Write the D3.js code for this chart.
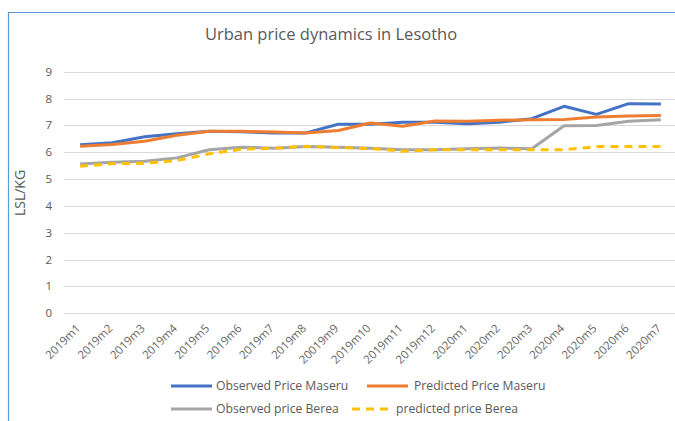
<!DOCTYPE html>
<html>
<head>
<meta charset="utf-8">
<script src="https://cdn.jsdelivr.net/npm/d3@7"></script>
<style>
  body { margin: 0; background: #fff; }
  svg { display: block; font-family: 'Open Sans', Lato, sans-serif; }
</style>
</head>
<body>
<div id="chart"></div>
<script>
var months = ['2019m1', '2019m2', '2019m3', '2019m4', '2019m5', '2019m6', '2019m7', '2019m8', '20019m9', '2019m10',
  '2019m11', '2019m12', '2020m1', '2020m2', '2020m3', '2020m4', '2020m5', '2020m6', '2020m7']

var observedMaseru = [6.28, 6.35, 6.58, 6.69, 6.78, 6.76, 6.72, 6.72, 7.04, 7.04, 7.12, 7.12, 7.06, 7.12, 7.25, 7.71, 7.41, 7.81, 7.8]
var predictedMaseru = [6.22, 6.29, 6.41, 6.63, 6.78, 6.78, 6.75, 6.72, 6.81, 7.09, 6.97, 7.16, 7.15, 7.19, 7.21, 7.22, 7.31, 7.35, 7.37]
var observedBerea = [5.56, 5.63, 5.66, 5.79, 6.09, 6.19, 6.15, 6.21, 6.19, 6.15, 6.09, 6.09, 6.13, 6.16, 6.13, 6.99, 7.0, 7.15, 7.21]
var predictedBerea = [5.48, 5.57, 5.59, 5.69, 5.94, 6.11, 6.15, 6.22, 6.17, 6.14, 6.04, 6.09, 6.09, 6.09, 6.09, 6.09, 6.21, 6.21, 6.21]

var yTicks = [0, 1, 2, 3, 4, 5, 6, 7, 8, 9]

var series = [
  { name: 'Observed Price Maseru', values: observedMaseru, color: '#4472C4', dash: null },
  { name: 'Predicted Price Maseru', values: predictedMaseru, color: '#ED7D31', dash: null },
  { name: 'Observed price Berea', values: observedBerea, color: '#A5A5A5', dash: null },
  { name: 'predicted price Berea', values: predictedBerea, color: '#FFC000', dash: '8,6' }
]

var width = 675
var height = 421

var margin = {
  top: 71.7,
  left: 64,
  bottom: 421 - 313.3,
  right: -2
}

var svg = d3.select('#chart').append('svg')
  .attr('width', width)
  .attr('height', height)

// chart frame (only left/top edges visible in the crop)
svg.append('path')
  .attr('d', 'M8.5,421 L8.5,12.5 L675,12.5')
  .attr('fill', 'none')
  .attr('stroke', '#5B9BD5')
  .attr('stroke-width', 1.2)

svg.append('text')
  .attr('x', 331)
  .attr('y', 40)
  .attr('text-anchor', 'middle')
  .attr('font-size', 16.5)
  .attr('fill', '#595959')
  .text('Urban price dynamics in Lesotho')

var x = d3.scalePoint()
  .domain(months)
  .range([margin.left, width - margin.right])
  .padding(0.5)

var y = d3.scaleLinear()
  .domain([0, 9])
  .range([height - margin.bottom, margin.top])

// gridlines
svg.append('g')
  .selectAll('line')
  .data(yTicks)
  .join('line')
  .attr('x1', margin.left)
  .attr('x2', width - margin.right)
  .attr('y1', function (d) { return Math.round(y(d)) + 0.5 })
  .attr('y2', function (d) { return Math.round(y(d)) + 0.5 })
  .attr('stroke', '#D9D9D9')
  .attr('stroke-width', 1)

svg.append('g')
  .selectAll('text')
  .data(yTicks)
  .join('text')
  .attr('x', 52)
  .attr('y', function (d) { return y(d) + 4 })
  .attr('text-anchor', 'end')
  .attr('font-size', 11.5)
  .attr('fill', '#595959')
  .text(function (d) { return d })

svg.append('text')
  .attr('transform', 'translate(25,193) rotate(-90)')
  .attr('text-anchor', 'middle')
  .attr('font-size', 14)
  .attr('fill', '#595959')
  .text('LSL/KG')

// x labels
svg.append('g')
  .selectAll('text')
  .data(months)
  .join('text')
  .attr('transform', function (d) { return 'translate(' + (x(d) + 1) + ',329) rotate(-45)' })
  .attr('text-anchor', 'end')
  .attr('font-size', 11.5)
  .attr('fill', '#666666')
  .text(function (d) { return d })

var line = d3.line()
  .x(function (d, i) { return x(months[i]) })
  .y(function (d) { return y(d) })

// draw back to front so blue/orange sit on top like the original
var order = [2, 3, 0, 1]
order.forEach(function (k) {
  var s = series[k]
  svg.append('path')
    .datum(s.values)
    .attr('d', line)
    .attr('fill', 'none')
    .attr('stroke', s.color)
    .attr('stroke-width', 3)
    .attr('stroke-linejoin', 'round')
    .attr('stroke-dasharray', s.dash)
})

// legend
var legendPos = [
  { x: 171, y: 386 },
  { x: 367, y: 386 },
  { x: 171, y: 409 },
  { x: 352, y: 409 }
]
var legendLen = [41, 41, 41, 36]
var legendGap = [4, 6, 4, 8]

series.forEach(function (s, i) {
  var p = legendPos[i]
  svg.append('line')
    .attr('x1', p.x)
    .attr('x2', p.x + legendLen[i])
    .attr('y1', p.y)
    .attr('y2', p.y)
    .attr('stroke', s.color)
    .attr('stroke-width', 3)
    .attr('stroke-dasharray', s.dash)
  svg.append('text')
    .attr('x', p.x + legendLen[i] + legendGap[i])
    .attr('y', p.y + 4)
    .attr('font-size', 12.2)
    .attr('fill', '#595959')
    .text(s.name)
})
</script>
</body>
</html>
